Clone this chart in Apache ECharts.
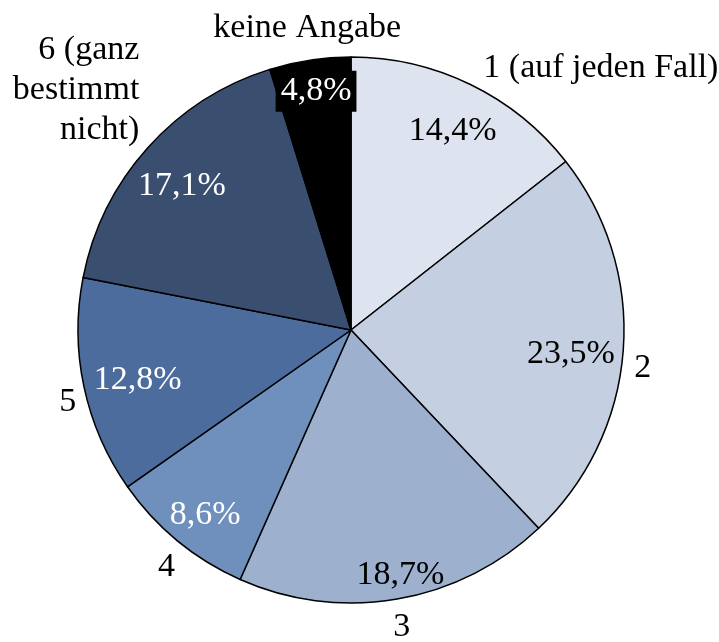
<!DOCTYPE html>
<html>
<head>
<meta charset="utf-8">
<script src="https://cdn.jsdelivr.net/npm/echarts@6/dist/echarts.min.js"></script>
<style>
  html, body { margin: 0; padding: 0; background: #fff; }
  #chart { width: 719px; height: 642px; }
</style>
</head>
<body>
<div id="chart"></div>
<script>
  // Antwortkategorien und Anteile in %
  const categories = ['1 (auf jeden Fall)', '2', '3', '4', '5', '6 (ganz\nbestimmt\nnicht)', 'keine Angabe'];
  const values = [14.4, 23.5, 18.7, 8.6, 12.8, 17.1, 4.8];
  const colors = ['#dee4ef', '#c4cfe1', '#9db1cf', '#6f8fbc', '#4b6c9c', '#3a4f70', '#000000'];
  const pctColors = ['#000', '#000', '#000', '#fff', '#fff', '#fff', '#fff'];

  const font = 'Liberation Serif';
  const fmt = v => v.toFixed(1).replace('.', ',') + '%';

  // Feinjustierung der Beschriftungen [dx, dy]
  const nameShift = [[0, 0], [-12, 17], [-12, 10], [14, 12], [15, 12], [10, -46], [5, -14]];
  const pctShift = [[0, 10], [-12, 7], [10, 16], [2, 6], [14, 2], [4, 11], [0, -9]];

  let chart = echarts.init(document.getElementById('chart'));

  let pieData = categories.map((name, i) => ({
    name: name,
    value: values[i],
    itemStyle: { color: colors[i] }
  }));

  let pctData = categories.map((name, i) => {
    let item = {
      name: name,
      value: values[i],
      label: { color: pctColors[i] }
    };
    if (i === 6) {
      item.label.backgroundColor = '#000';
      item.label.padding = [4, 5, 3, 5];
    }
    return item;
  });

  let option = {
    animation: false,
    series: [
      {
        type: 'pie',
        center: [351, 330],
        radius: [0, 273],
        startAngle: 90,
        clockwise: true,
        silent: true,
        itemStyle: { borderColor: '#000', borderWidth: 1.5 },
        label: {
          show: true,
          position: 'outside',
          fontFamily: font,
          fontSize: 34,
          color: '#000',
          lineHeight: 40,
          overflow: 'none',
          formatter: p => p.name
        },
        labelLine: { show: false, length: 18, length2: 0 },
        labelLayout: function (p) {
          let s = nameShift[p.dataIndex];
          let res = { dx: s[0], dy: s[1] };
          if (p.dataIndex === 6) res.align = 'center';
          return res;
        },
        data: pieData
      },
      {
        type: 'pie',
        center: [351, 330],
        radius: [186, 273],
        startAngle: 90,
        clockwise: true,
        silent: true,
        itemStyle: { color: 'rgba(0,0,0,0)', borderWidth: 0 },
        label: {
          show: true,
          position: 'inside',
          fontFamily: font,
          fontSize: 34,
          lineHeight: 34,
          overflow: 'none',
          formatter: p => fmt(p.value)
        },
        labelLine: { show: false },
        labelLayout: function (p) {
          let s = pctShift[p.dataIndex];
          return { dx: s[0], dy: s[1] };
        },
        data: pctData
      }
    ]
  };

  chart.setOption(option);
</script>
</body>
</html>
